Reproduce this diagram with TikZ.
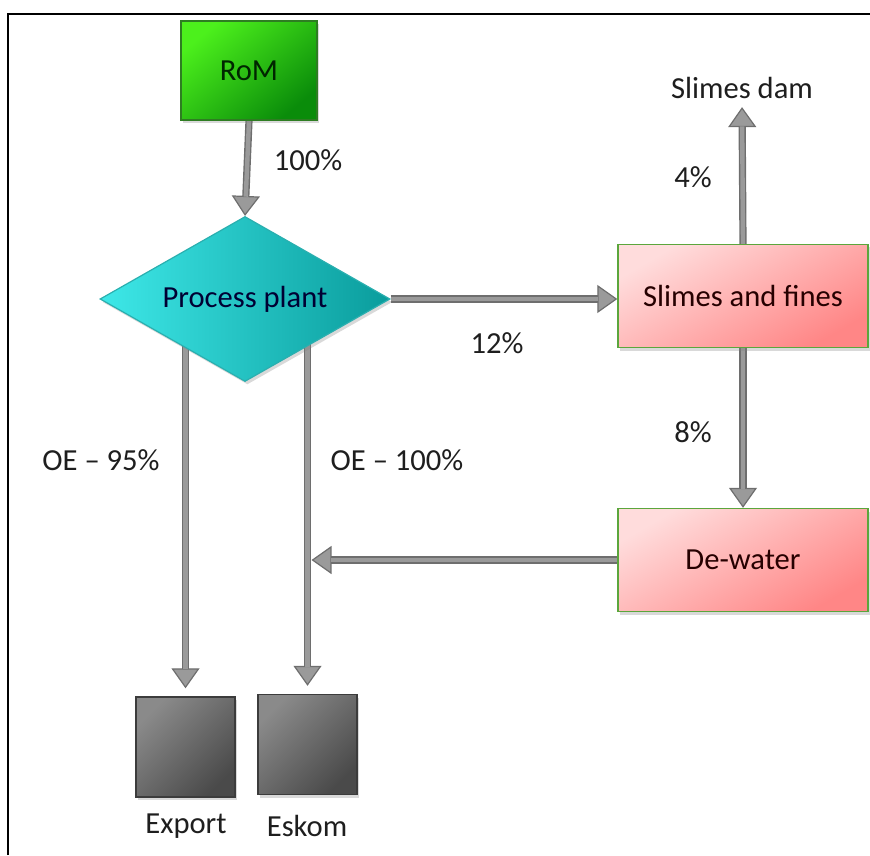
\documentclass[tikz,border=0pt]{standalone}
\usepackage{fontspec}
\setmainfont{Carlito}
\usetikzlibrary{arrows.meta,shapes.geometric,shadows}
\definecolor{romlight}{HTML}{4CF01C}
\definecolor{romdark}{HTML}{0A8C0A}
\definecolor{romedge}{HTML}{2E7D22}
\definecolor{cyanl}{HTML}{3EE8E8}
\definecolor{cyanm}{HTML}{22D6D6}
\definecolor{cyand}{HTML}{0A9C9C}
\definecolor{cyanedge}{HTML}{2AAFAF}
\definecolor{pinkl}{HTML}{FFDCDC}
\definecolor{pinkd}{HTML}{FF8686}
\definecolor{boxgreen}{HTML}{5BA63C}
\definecolor{grayl}{HTML}{BEBEBE}
\definecolor{graym}{HTML}{8A8A8A}
\definecolor{grayd}{HTML}{4A4A4A}
\definecolor{grayedge}{HTML}{3C3C3C}
\definecolor{txt}{HTML}{1E1E1E}
\definecolor{arrowfill}{HTML}{9A9A9A}
\definecolor{arrowedge}{HTML}{6E6E6E}
\pgfdeclarelayer{background}
\pgfsetlayers{background,main}
\begin{document}
\begin{tikzpicture}[x=0.5pt,y=-0.5pt,
  font=\fontsize{15.3}{18}\selectfont,
  shadowed/.style={drop shadow={opacity=0.3,shadow xshift=1.2pt,shadow yshift=-1.5pt}},
  rombox/.style={shadowed,draw=romedge,line width=0.6pt,inner sep=0pt,
    minimum width=68pt,minimum height=49.5pt,
    top color=romlight,bottom color=romdark,shading angle=40,text=black!85!green},
  plant/.style={shadowed,diamond,aspect=1.757,draw=cyanedge,line width=0.6pt,inner sep=0pt,
    minimum width=145pt,minimum height=82.5pt,
    left color=cyanl,middle color=cyanm,right color=cyand,text=black!80!blue},
  pinkbox/.style={shadowed,draw=boxgreen,line width=0.7pt,inner sep=0pt,
    minimum width=125pt,minimum height=51.5pt,
    top color=pinkl,bottom color=pinkd,shading angle=30,text=black!85!red},
  graybox/.style={shadowed,draw=grayedge,line width=0.7pt,inner sep=0pt,
    minimum width=49.5pt,minimum height=50pt,
    top color=graym,middle color=grayl,bottom color=grayd,shading angle=45},
  lbl/.style={text=txt,inner sep=2pt},
  flow/.style={line width=3.6pt,draw=arrowedge,
    -{Triangle[width=14pt,length=10pt,line width=0.6pt,fill=arrowfill]},
    shorten >=#1,
    postaction={draw=arrowfill,line width=2.2pt,-,shorten >=#1+9.6pt}},
  flow/.default=0pt
]
\useasboundingbox (0,0) rectangle (870,855);
\draw[line width=1.2pt,black] (8,855) -- (8,14) -- (870,14);

% nodes
\node[rombox] (rom) at (249,70.5) {RoM};
\node[plant] (pp) at (245,299) {Process plant};
\node[pinkbox] (sf) at (743,296) {Slimes and fines};
\node[pinkbox] (dw) at (743,560) {De-water};
\node[graybox] (ex) at (185.5,747) {};
\node[graybox] (es) at (307.5,744.5) {};

% labels
\node[lbl] (dam) at (742,88) {Slimes dam};
\node[lbl] (p100) at (308,160) {100\%};
\node[lbl] (p12) at (497,343) {12\%};
\node[lbl] (p4) at (693,177) {4\%};
\node[lbl] (p8) at (693,432) {8\%};
\node[lbl] (oe95) at (101,460) {OE -- 95\%};
\node[lbl] (oe100) at (397,460) {OE -- 100\%};
\node[lbl] (exl) at (186,826) {Export};
\node[lbl] (esl) at (307,826) {Eskom};

% connectors
\begin{pgfonlayer}{background}
\draw[flow] (rom.south) -- (pp.north);
\draw[flow] (pp.east) -- (pp.east -| sf.west);
\draw[flow=2pt] (sf.north) -- (dam.south);
\draw[flow] (sf.south) -- (dw.north);
\draw[flow=2pt] (dw.west) -- (dw.west -| es.north);
\draw[flow=4pt] (ex.north |- pp.center) -- (ex.north);
\draw[flow=4pt] (es.north |- pp.center) -- (es.north);
\end{pgfonlayer}
\end{tikzpicture}
\end{document}
